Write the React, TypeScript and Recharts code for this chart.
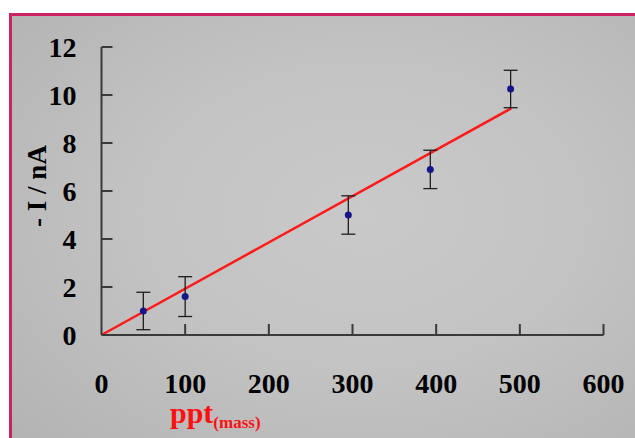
import React from 'react';
import { ComposedChart, XAxis, YAxis, Scatter, ErrorBar, Line } from 'recharts';

const concentrations = [50, 100, 295, 393, 489];
const currents = [1.0, 1.6, 5.0, 6.9, 10.25];
const errors = [0.78, 0.83, 0.8, 0.8, 0.78];
const fitX = [0, 490];
const fitY = [0, 9.45];
const xTicks = [0, 100, 200, 300, 400, 500, 600];
const yTicks = [0, 2, 4, 6, 8, 10, 12];

const points = concentrations.map((c, i) => ({ x: c, y: currents[i], err: errors[i] }));
const fitData = fitX.map((x, i) => ({ x, y: fitY[i] }));

const FONT = '"Liberation Serif", "Times New Roman", serif';

const XTick = (props: any) => {
  const { x, y, payload } = props;
  return (
    <g>
      {payload.value !== 0 && (
        <line x1={x} y1={y} x2={x} y2={y - 11} stroke="#3a3a3a" strokeWidth={2} />
      )}
      <text x={x} y={y + 58} textAnchor="middle" fontFamily={FONT} fontWeight="bold" fontSize={28} fill="#000">
        {payload.value}
      </text>
    </g>
  );
};

const YTick = (props: any) => {
  const { x, y, payload } = props;
  return (
    <g>
      {payload.value !== 0 && (
        <line x1={x} y1={y} x2={x + 11} y2={y} stroke="#3a3a3a" strokeWidth={2} />
      )}
      <text x={x - 25} y={y + 9.5} textAnchor="end" fontFamily={FONT} fontWeight="bold" fontSize={28} fill="#000">
        {payload.value}
      </text>
    </g>
  );
};

const XTitle = () => (
  <text x={170} y={423} fontFamily={FONT} fontWeight="bold" fill="#ff1010">
    <tspan fontSize={30}>ppt</tspan>
    <tspan fontSize={17} dy={5}>(mass)</tspan>
  </text>
);

const YTitle = () => (
  <text
    x={0}
    y={0}
    transform="translate(46,186) rotate(-90)"
    textAnchor="middle"
    fontFamily={FONT}
    fontWeight="bold"
    fontSize={27}
    fill="#000"
  >
    - I / nA
  </text>
);

const Dot = (props: any) => {
  const { cx, cy } = props;
  return <circle cx={cx} cy={cy} r={3.5} fill="#16168a" />;
};

export default function App() {
  return (
    <div style={{ position: 'absolute', left: 0, top: 0, width: 635, height: 438, overflow: 'hidden', background: '#fff' }}>
      <div
        style={{
          position: 'absolute',
          left: 9,
          top: 13,
          width: 640,
          height: 440,
          border: '3px solid #cc2263',
          background: 'radial-gradient(ellipse at 55% 45%, #c9c9c9 0%, #c3c3c3 45%, #b2b2b2 100%)',
        }}
      />
      <div style={{ position: 'absolute', left: 0, top: 0 }}>
        <ComposedChart
          width={635}
          height={438}
          data={points}
          margin={{ top: 47, right: 31.5, bottom: 43, left: 11.5 }}
        >
          <XAxis
            dataKey="x"
            type="number"
            domain={[0, 600]}
            ticks={xTicks}
            interval={0}
            tickSize={0}
            tickMargin={0}
            height={60}
            axisLine={{ stroke: '#3a3a3a', strokeWidth: 2 }}
            tick={<XTick />}
            label={<XTitle />}
          />
          <YAxis
            type="number"
            domain={[0, 12]}
            ticks={yTicks}
            interval={0}
            tickSize={0}
            tickMargin={0}
            width={90}
            axisLine={{ stroke: '#3a3a3a', strokeWidth: 2 }}
            tick={<YTick />}
            label={<YTitle />}
          />
          <Line
            data={fitData}
            dataKey="y"
            type="linear"
            stroke="#ff1a1a"
            strokeWidth={2.5}
            dot={false}
            activeDot={false}
            isAnimationActive={false}
          />
          <Scatter data={points} dataKey="y" shape={<Dot />} isAnimationActive={false}>
            <ErrorBar dataKey="err" direction="y" width={7} stroke="#1e1e1e" strokeWidth={1.3} />
          </Scatter>
        </ComposedChart>
      </div>
    </div>
  );
}
